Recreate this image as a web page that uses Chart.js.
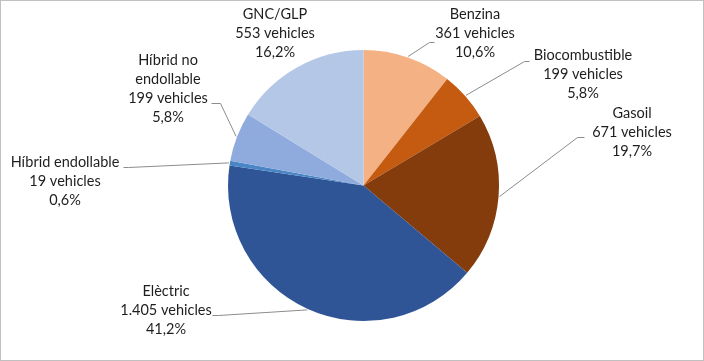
<!DOCTYPE html>
<html>
<head>
<meta charset="utf-8">
<script src="https://cdn.jsdelivr.net/npm/chart.js@4/dist/chart.umd.min.js"></script>
<style>
  html, body { margin: 0; padding: 0; background: #fff; }
  #wrap { position: relative; width: 704px; height: 361px; box-sizing: border-box; border: 1px solid #c0c0c0; }
  canvas { display: block; }
</style>
</head>
<body>
<div id="wrap"><canvas id="c" width="702" height="359"></canvas></div>
<script>
// ---- data ----
const categories = ["Benzina", "Biocombustible", "Gasoil", "Elèctric", "Híbrid endollable", "Híbrid no endollable", "GNC/GLP"];
const vehicles   = [361, 199, 671, 1405, 19, 199, 553];
const percents   = ["10,6%", "5,8%", "19,7%", "41,2%", "0,6%", "5,8%", "16,2%"];
const countLabels = ["361 vehicles", "199 vehicles", "671 vehicles", "1.405 vehicles", "19 vehicles", "199 vehicles", "553 vehicles"];

// ---- style / layout ----
const colors = ["#F4B183", "#C55A11", "#843C0C", "#2F5597", "#4A86C5", "#8FAADC", "#B4C7E7"];
// label text block: center x, first-line baseline-center y; lines of the category name
const nameLines = [["Benzina"], ["Biocombustible"], ["Gasoil"], ["Elèctric"], ["Híbrid endollable"], ["Híbrid no", "endollable"], ["GNC/GLP"]];
const labelPos = [
  {x: 475, y: 14}, {x: 583, y: 55}, {x: 632, y: 113}, {x: 166, y: 291},
  {x: 65, y: 162}, {x: 168, y: 60}, {x: 275, y: 14}
];
// leader: elbow and end point (null = no leader)
const leaders = [
  {elbow: [429, 41], end: [434, 41]},
  {elbow: [524, 60], end: [529, 60]},
  {elbow: [577, 136], end: [584, 136]},
  {elbow: [218, 314], end: [212, 314]},
  {elbow: [128, 166], end: [123, 166]},
  {elbow: [220, 102], end: [211, 102]},
  null
];
const lineH = 19;
const FONT = '14.5px Lato, "Open Sans", sans-serif';

const labelPlugin = {
  id: 'outLabels',
  afterDraw(chart) {
    const ctx = chart.ctx;
    const meta = chart.getDatasetMeta(0);
    ctx.save();
    ctx.font = FONT;
    ctx.fillStyle = '#1e1e1e';
    ctx.textAlign = 'center';
    ctx.textBaseline = 'middle';
    meta.data.forEach((arc, i) => {
      const p = arc.getProps(['x', 'y', 'startAngle', 'endAngle', 'outerRadius'], true);
      const mid = (p.startAngle + p.endAngle) / 2;
      const r = p.outerRadius + 1;
      const ax = p.x + Math.cos(mid) * r, ay = p.y + Math.sin(mid) * r;
      const L = leaders[i];
      if (L) {
        ctx.strokeStyle = '#8c8c8c';
        ctx.lineWidth = 1;
        ctx.beginPath();
        ctx.moveTo(ax, ay);
        ctx.lineTo(L.elbow[0] - 0.5, L.elbow[1] + 0.5);
        ctx.lineTo(L.end[0] - 0.5, L.end[1] + 0.5);
        ctx.stroke();
      }
      const lines = nameLines[i].concat([countLabels[i], percents[i]]);
      const pos = labelPos[i];
      lines.forEach((t, k) => ctx.fillText(t, pos.x - 1, pos.y - 1 + k * lineH));
    });
    ctx.restore();
  }
};

new Chart(document.getElementById('c'), {
  type: 'pie',
  data: {
    labels: categories,
    datasets: [{
      data: vehicles,
      backgroundColor: colors,
      borderWidth: 0
    }]
  },
  options: {
    responsive: false,
    animation: false,
    layout: { padding: { left: 227, right: 204, top: 49, bottom: 39 } },
    plugins: { legend: { display: false }, tooltip: { enabled: false } }
  },
  plugins: [labelPlugin]
});
</script>
</body>
</html>
